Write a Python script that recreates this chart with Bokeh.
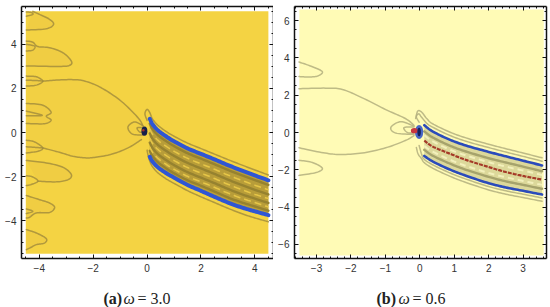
from bokeh.plotting import figure
from bokeh.layouts import row, column
from bokeh.models import LinearAxis, FixedTicker, Label
from bokeh.embed import file_html
from bokeh.resources import INLINE
import numpy as np

# ---------- tick labels ----------
a_xticks = [-4, -2, 0, 2, 4]
a_yticks = [-4, -2, 0, 2, 4]
b_xticks = [-3, -2, -1, 0, 1, 2, 3]
b_yticks = [-6, -4, -2, 0, 2, 4, 6]
a_xminor = [-4.5, -3.5, -3, -2.5, -1.5, -1, -0.5, 0.5, 1, 1.5, 2.5, 3, 3.5, 4.5]
a_yminor = [-5.5, -5, -4.5, -3.5, -3, -2.5, -1.5, -1, -0.5, 0.5, 1, 1.5, 2.5, 3, 3.5, 4.5, 5, 5.5]
b_xminor = [-3.6, -3.4, -3.2, -2.8, -2.6, -2.4, -2.2, -1.8, -1.6, -1.4, -1.2, -0.8, -0.6, -0.4, -0.2,
            0.2, 0.4, 0.6, 0.8, 1.2, 1.4, 1.6, 1.8, 2.2, 2.4, 2.6, 2.8, 3.2, 3.4, 3.6]
b_yminor = [-6.5, -5.5, -5, -4.5, -3.5, -3, -2.5, -1.5, -1, -0.5, 0.5, 1, 1.5, 2.5, 3, 3.5, 4.5, 5, 5.5, 6.5]

# ---------- panel (a): contours ----------
a_lobe1 = [(-4.48, 4.65), (-3.74, 4.71), (-3.47, 4.91), (-3.62, 5.14), (-3.99, 5.36), (-4.24, 5.5)]
a_lobe1b = [(-4.48, 5.28), (-4.24, 5.36), (-4.3, 5.45), (-4.48, 5.47)]
a_lobe2 = [(-4.48, 4.15), (-4.24, 4.1), (-4.05, 3.9), (-3.62, 3.85), (-3.12, 3.62), (-2.81, 3.24),
           (-2.87, 3.05), (-3.25, 3.0), (-4.48, 3.02)]
a_lobe2b = [(-4.48, 4.0), (-4.17, 3.92), (-4.24, 3.74), (-4.48, 3.7)]
a_lobe3 = [(-4.48, 2.56), (-4.11, 2.53), (-3.87, 2.33), (-4.11, 2.15), (-4.48, 2.11)]
a_lobe3b = [(-4.48, 2.37), (-4.1, 2.36), (-3.87, 2.33)]
a_lobe4 = [(-4.48, 1.32), (-3.87, 1.24), (-3.56, 0.92), (-3.74, 0.74), (-3.56, 0.56), (-3.81, 0.4), (-4.48, 0.41)]
a_lobe4b = [(-4.48, 0.97), (-3.89, 0.78), (-4.48, 0.76)]
a_lobe5 = [(-4.48, -0.35), (-4.17, -0.43), (-3.87, -0.7), (-4.05, -0.85), (-4.48, -0.93)]
a_lobe5b = [(-4.48, -0.65), (-4.1, -0.68), (-3.87, -0.7)]
a_lobe6 = [(-4.48, -1.27), (-3.74, -1.38), (-3.12, -1.58), (-2.81, -1.91), (-2.93, -2.14),
           (-3.37, -2.24), (-4.05, -2.21)]
a_lobe6b = [(-4.48, -1.96), (-4.24, -2.02), (-4.05, -2.21), (-4.3, -2.36), (-4.48, -2.41)]
a_lobe7 = [(-4.48, -2.86), (-3.99, -3.05), (-3.62, -3.2), (-3.43, -3.4), (-3.62, -3.63), (-4.11, -3.65),
           (-4.36, -3.85), (-4.48, -3.88)]
a_lobe7b = [(-4.48, -3.47), (-4.24, -3.58), (-4.48, -3.68)]
a_lobe8 = [(-4.48, -4.41), (-4.11, -4.56), (-3.74, -4.82), (-3.81, -5.02), (-4.11, -5.09), (-4.3, -5.21), (-4.48, -5.32)]
a_long_up = [(-3.87, 2.33), (-3.37, 2.38), (-2.75, 2.4), (-2.3, 2.33), (-1.7, 2.03), (-0.96, 1.42), (-0.33, 0.66), (-0.15, 0.29)]
a_long_lo = [(-3.87, -0.7), (-3.25, -0.9), (-2.75, -1.08), (-2.3, -1.15), (-1.96, -1.13), (-1.33, -0.99), (-0.71, -0.7), (-0.21, -0.32)]
a_loop1 = [(-0.15, 0.3), (-0.46, 0.48), (-0.71, 0.25), (-0.56, -0.06), (-0.15, -0.12)]
a_loop2 = [(-0.15, 0.22), (-0.37, 0.21), (-0.28, 0.03), (-0.15, 0.0)]
a_cap_up = [(0.0, 0.55), (-0.08, 0.85), (0.0, 1.05), (0.1, 0.9), (0.2, 0.62), (0.4, 0.33), (0.7, 0.05), (1, -0.17),
            (1.5, -0.48), (2, -0.73), (2.5, -0.98), (3, -1.23), (3.5, -1.47), (4, -1.7), (4.5, -1.93)]
a_cap_lo = [(0.0, -0.8), (0.03, -1.0), (0.1, -1.3), (0.2, -1.55), (0.4, -1.83), (0.7, -2.1), (1, -2.31), (1.5, -2.64),
            (2, -2.92), (2.5, -3.18), (3, -3.44), (3.5, -3.68), (4, -3.88), (4.5, -4.05)]

a_x = [0.1, 0.2, 0.4, 0.7, 1, 1.5, 2, 2.5, 3, 3.5, 4, 4.5]
a_blue_up = [0.62, 0.38, 0.1, -0.17, -0.4, -0.72, -0.97, -1.22, -1.48, -1.72, -1.95, -2.17]
a_blue_lo = [-1.1, -1.32, -1.58, -1.84, -2.05, -2.38, -2.65, -2.92, -3.18, -3.4, -3.58, -3.75]
a_dark1 = [0.4, 0.16, -0.12, -0.39, -0.62, -0.94, -1.19, -1.44, -1.7, -1.94, -2.16, -2.38]
a_pale1 = [0.17, -0.07, -0.35, -0.62, -0.85, -1.17, -1.42, -1.67, -1.93, -2.17, -2.39, -2.6]
a_dark2 = [-0.04, -0.28, -0.56, -0.83, -1.06, -1.38, -1.63, -1.88, -2.14, -2.38, -2.6, -2.81]
a_pale2 = [-0.25, -0.49, -0.77, -1.04, -1.27, -1.59, -1.84, -2.09, -2.35, -2.59, -2.81, -3.0]
a_dark3 = [-0.46, -0.7, -0.98, -1.25, -1.48, -1.8, -2.05, -2.3, -2.56, -2.8, -3.0, -3.2]
a_pale3 = [-0.65, -0.89, -1.17, -1.44, -1.67, -1.99, -2.24, -2.49, -2.75, -2.98, -3.18, -3.38]
a_dark4 = [-0.83, -1.07, -1.35, -1.62, -1.85, -2.17, -2.42, -2.68, -2.95, -3.17, -3.36, -3.55]

# ---------- panel (b) ----------
b_lobe1 = [(-3.51, 3.78), (-3.12, 3.53), (-2.83, 3.26), (-2.97, 3.03), (-3.22, 2.98), (-3.51, 3.0)]
b_lobe2 = [(-3.51, -1.49), (-3.12, -1.61), (-2.83, -1.92), (-3.02, -2.15), (-3.51, -2.3)]
b_long_up = [(-3.51, 2.35), (-2.73, 2.38), (-2.25, 2.31), (-1.67, 1.86), (-0.99, 1.23), (-0.42, 0.75), (-0.17, 0.39)]
b_long_lo = [(-3.51, -0.82), (-2.92, -1.05), (-2.35, -1.18), (-1.67, -1.1), (-0.99, -0.82), (-0.42, -0.43), (-0.17, -0.17)]
b_loop1 = [(-0.17, 0.34), (-0.55, 0.58), (-0.84, 0.28), (-0.7, -0.03), (-0.17, -0.1)]
b_loop2 = [(-0.17, 0.3), (-0.46, 0.26), (-0.36, 0.0), (-0.17, -0.03)]
b_x = [0.13, 0.37, 0.85, 1.34, 2, 2.5, 3, 3.55]
b_blue_up = [0.39, 0.06, -0.37, -0.7, -1.04, -1.28, -1.51, -1.77]
b_blue_lo = [-1.26, -1.55, -1.97, -2.32, -2.72, -2.95, -3.13, -3.33]
b_red = [-0.43, -0.75, -1.12, -1.47, -1.85, -2.12, -2.33, -2.53]
b_dark1 = [0.06, -0.26, -0.69, -1.02, -1.38, -1.61, -1.83, -2.08]
b_pale1 = [-0.15, -0.47, -0.9, -1.23, -1.59, -1.83, -2.04, -2.28]
b_pale2 = [-0.72, -1.02, -1.44, -1.79, -2.17, -2.4, -2.6, -2.81]
b_dark2 = [-0.93, -1.24, -1.65, -2.0, -2.38, -2.62, -2.81, -3.02]
b_up1 = [(-0.02, 0.55), (-0.1, 0.85), (-0.03, 1.0), (0.04, 0.85), (0.2, 0.5), (0.37, 0.29), (0.85, -0.14), (1.34, -0.47), (2, -0.81), (2.5, -1.05), (3, -1.28), (3.55, -1.54)]
b_up2 = [(-0.12, 0.75), (-0.06, 1.15), (0.05, 1.1), (0.2, 0.75), (0.37, 0.47), (0.85, 0.04), (1.34, -0.29), (2, -0.63), (2.5, -0.87), (3, -1.1), (3.55, -1.36)]
b_lo1 = [(-0.02, -0.7), (0.05, -1.15), (0.13, -1.44), (0.37, -1.73), (0.85, -2.15), (1.34, -2.5), (2, -2.9), (2.5, -3.13), (3, -3.31), (3.55, -3.51)]
b_lo2 = [(-0.1, -0.8), (-0.05, -1.15), (0.05, -1.4), (0.13, -1.62), (0.37, -1.91), (0.85, -2.33), (1.34, -2.68), (2, -3.08), (2.5, -3.31), (3, -3.49), (3.55, -3.69)]

# ---------- captions ----------
cap_a = ["(a)", "\u03c9", "= 3.0"]
cap_b = ["(b)", "\u03c9", "= 0.6"]


def smooth(pts, n=10):
    P = [pts[0]] + list(pts) + [pts[-1]]
    P = np.array(P, dtype=float)
    xs, ys = [], []
    for i in range(1, len(P) - 2):
        for t in np.linspace(0, 1, n, endpoint=False):
            q = 0.5 * ((2 * P[i]) + (P[i + 1] - P[i - 1]) * t
                       + (2 * P[i - 1] - 5 * P[i] + 4 * P[i + 1] - P[i + 2]) * t ** 2
                       + (3 * P[i] - P[i - 1] - 3 * P[i + 1] + P[i + 2]) * t ** 3)
            xs.append(q[0])
            ys.append(q[1])
    xs.append(P[-2][0])
    ys.append(P[-2][1])
    return xs, ys


def base(xr, yr, xt, xm, yt, ym, bl, br):
    p = figure(x_range=xr, y_range=yr, frame_width=252, frame_height=252,
               output_backend="svg", toolbar_location=None,
               min_border_left=bl, min_border_right=br, min_border_top=6, min_border_bottom=20,
               background_fill_color="white", border_fill_color=None, outline_line_color=None)
    p.grid.visible = False
    p.xaxis.visible = False
    p.yaxis.visible = False
    for side, ticks, minor in (("below", xt, xm), ("above", xt, xm), ("left", yt, ym), ("right", yt, ym)):
        ax = LinearAxis(ticker=FixedTicker(ticks=ticks, minor_ticks=minor))
        ax.axis_line_color = "#111111"
        ax.axis_line_width = 1.5
        ax.major_tick_in = 4
        ax.major_tick_out = 0
        ax.minor_tick_in = 2
        ax.minor_tick_out = 0
        ax.major_tick_line_color = "#111111"
        ax.minor_tick_line_color = "#111111"
        ax.major_label_standoff = 5
        ax.major_label_text_font = "Liberation Sans"
        ax.major_label_text_font_size = "10px"
        ax.major_label_text_color = "#333333"
        if side in ("above", "right"):
            ax.major_label_overrides = {t: "" for t in ticks}
            ax.major_label_standoff = 0
        p.add_layout(ax, side)
    return p


def curve(p, pts, color, width=1.5, alpha=0.85):
    x, y = smooth(pts)
    p.line(x, y, line_color=color, line_width=width, line_alpha=alpha, line_join="round", line_cap="round")


# ---------- panel (a) ----------
pa = base((-4.66, 4.69), (-5.72, 5.72), a_xticks, a_xminor, a_yticks, a_yminor, 21, 0)
pa.quad(left=[-4.5], right=[4.5], bottom=[-5.5], top=[5.5], fill_color="#F4D343", line_color=None)
ux, uy = smooth(a_long_up)
lx, ly = smooth(a_long_lo)
pa.patch([-4.48] + ux + lx[::-1] + [-4.48], [2.33] + uy + ly[::-1] + [-0.7], fill_color="#F2D043", line_color=None)
LC = "#A48E3C"
for lobe in (a_lobe1, a_lobe2, a_lobe3, a_lobe4, a_lobe5, a_lobe6, a_lobe7, a_lobe8):
    x, y = smooth(lobe)
    pa.patch(x, y, fill_color="#F0CD43", line_color=None)
for c in (a_lobe1, a_lobe1b, a_lobe2, a_lobe2b, a_lobe3, a_lobe3b, a_lobe4, a_lobe4b, a_lobe5, a_lobe5b,
          a_lobe6, a_lobe6b, a_lobe7, a_lobe7b, a_lobe8, a_long_up, a_long_lo, a_loop1, a_loop2, a_cap_up, a_cap_lo):
    curve(pa, c, LC)
ax_, up_ = smooth(list(zip(a_x, a_blue_up)))
_, lo_ = smooth(list(zip(a_x, a_blue_lo)))
pa.patch(ax_ + ax_[::-1], up_ + lo_[::-1], fill_color="#B89D39", line_color=None)
for s in (a_dark1, a_dark2, a_dark3, a_dark4):
    curve(pa, list(zip(a_x, s)), "#96822F", 2.4, 1)
for s in (a_pale1, a_pale2, a_pale3):
    x, y = smooth(list(zip(a_x, s)))
    pa.line(x, y, line_color="#E6C648", line_width=1.6, line_dash="7 4")
for s in (a_blue_up, a_blue_lo):
    curve(pa, list(zip(a_x, s)), "#2F56D4", 4, 1)
pa.ellipse([-0.1], [0.06], width=0.22, height=0.42, fill_color="#17204A", line_color=None)
pa.ellipse([-0.14], [0.1], width=0.09, height=0.12, fill_color="#A8332A", line_color=None)

# ---------- panel (b) ----------
pb = base((-3.64, 3.68), (-6.76, 6.76), b_xticks, b_xminor, b_yticks, b_yminor, 21, 4)
pb.quad(left=[-3.5], right=[3.6], bottom=[-6.6], top=[6.6], fill_color="#FFFBB6", line_color=None)
GC = "#B3AF7E"
for c in (b_lobe1, b_lobe2, b_long_up, b_long_lo, b_loop1, b_loop2, b_up1, b_up2, b_lo1, b_lo2):
    curve(pb, c, GC, 1.5)
bx_, up_ = smooth(list(zip(b_x, b_blue_up)))
_, lo_ = smooth(list(zip(b_x, b_blue_lo)))
pb.patch(bx_ + bx_[::-1], up_ + lo_[::-1], fill_color="#DCD89A", line_color=None)
for s in (b_dark1, b_dark2):
    curve(pb, list(zip(b_x, s)), "#A6A36C", 2.4, 1)
for s in (b_pale1, b_pale2):
    x, y = smooth(list(zip(b_x, s)))
    pb.line(x, y, line_color="#F3F0BC", line_width=2, line_dash="6 4")
for s in (b_blue_up, b_blue_lo):
    curve(pb, list(zip(b_x, s)), "#2B4BBB", 2.6, 1)
x, y = smooth(list(zip(b_x, b_red)))
pb.line(x, y, line_color="#A53A28", line_width=2.2, line_dash="4 1")
pb.ellipse([-0.02], [0.03], width=0.24, height=0.75, fill_color="#4A68C8", line_color=None)
pb.ellipse([-0.16], [0.1], width=0.2, height=0.28, fill_color="#C8363F", line_color=None)
pb.ellipse([-0.02], [0.03], width=0.1, height=0.45, fill_color="#16205A", line_color=None)

# ---------- caption strip ----------
pc = figure(width=550, height=29, x_range=(0, 550), y_range=(29, 0), output_backend="svg",
            toolbar_location=None, min_border=0, outline_line_color=None, border_fill_color=None,
            background_fill_color=None)
pc.grid.visible = False
pc.axis.visible = False

def cap(texts, xs, y=20):
    styles = ("bold", "italic", "normal")
    for t, x0, st in zip(texts, xs, styles):
        pc.add_layout(Label(x=x0, y=y, text=t, text_font="Liberation Serif", text_font_size="16px",
                            text_font_style=st, text_color="#222222", text_baseline="alphabetic"))

cap(cap_a, (103, 123, 137))
cap(cap_b, (376, 398, 412))

layout = column(row(pa, pb, spacing=0), pc, spacing=0)
open("out.html", "w").write(file_html(layout, INLINE))
